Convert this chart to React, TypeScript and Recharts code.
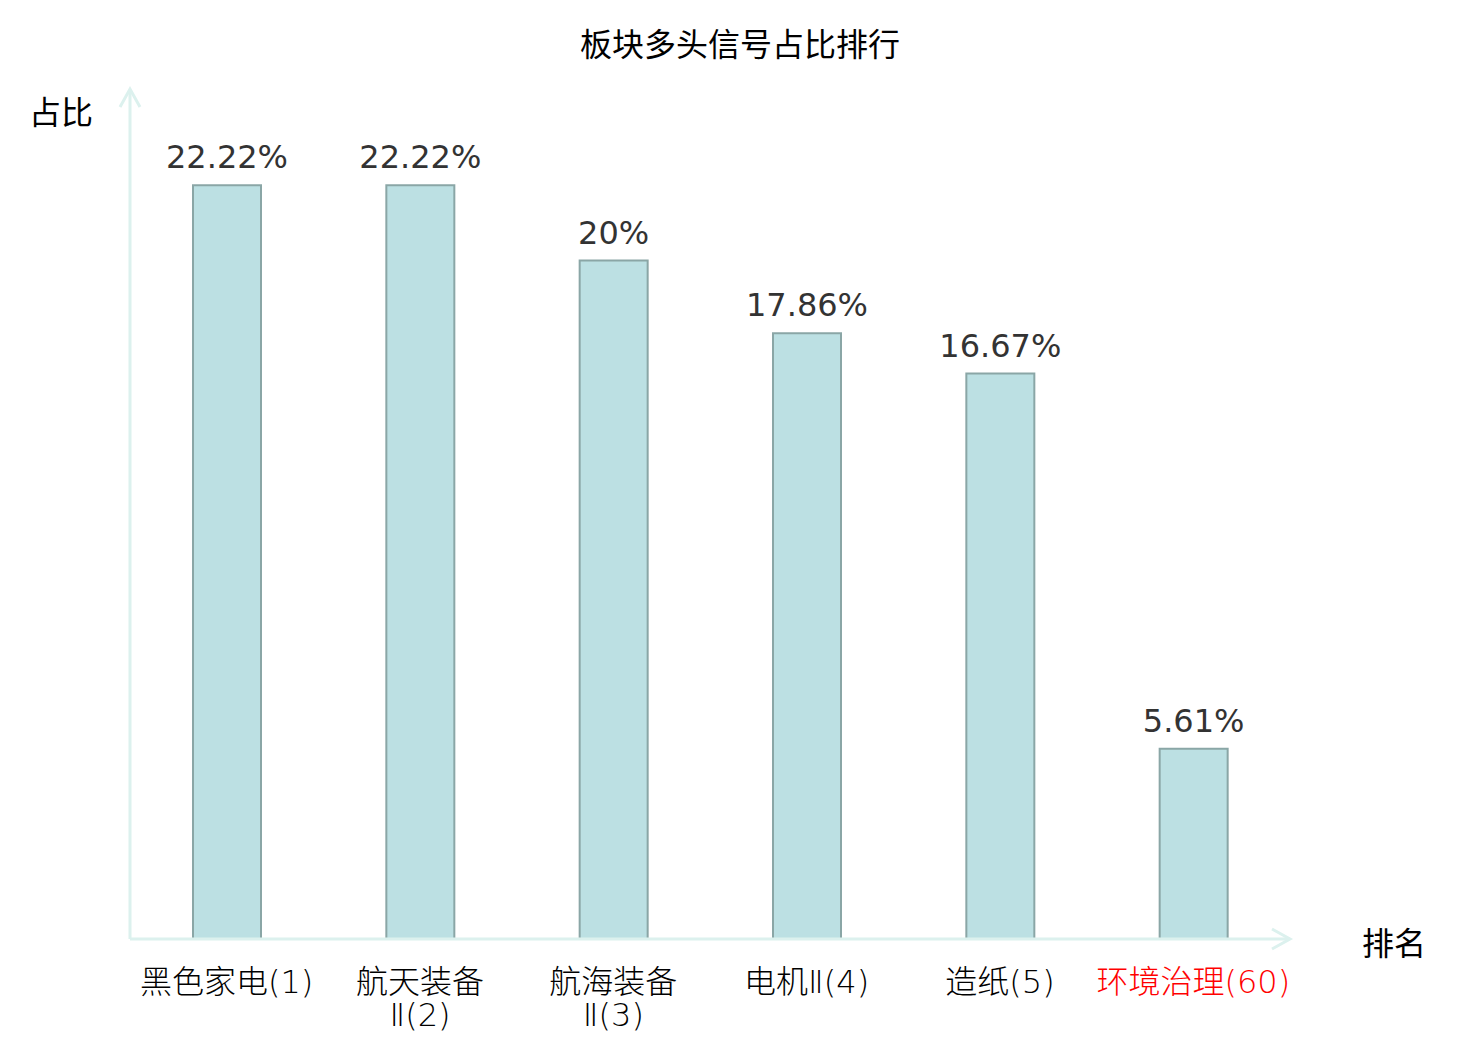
import React from 'react';
import { BarChart, Bar, XAxis, YAxis, LabelList } from 'recharts';

const sectors = ['黑色家电(1)', '航天装备\nⅡ(2)', '航海装备\nⅡ(3)', '电机Ⅱ(4)', '造纸(5)', '环境治理(60)'];
const ratios = [22.22, 22.22, 20, 17.86, 16.67, 5.61];
const highlightSector = '环境治理(60)';

const axisColor = '#dcf1ee';
const cjkFont = '"Noto Sans CJK SC", sans-serif';
const tickFont = '"DejaVu Sans", "Noto Sans CJK SC", sans-serif';

const data = sectors.map((name, i) => ({ name, ratio: ratios[i] }));

const SectorTick = (props: any) => {
    const { x, y, payload } = props;
    const lines = String(payload.value).split('\n');
    const color = payload.value === highlightSector ? '#f00' : '#000';
    return (
        <text x={x} y={y} textAnchor="middle" fill={color} fontSize={32} fontWeight={200} fontFamily={tickFont}>
            {lines.map((line, i) => (
                <tspan key={i} x={x} dy={i === 0 ? 52 : 33}>{line}</tspan>
            ))}
        </text>
    );
};

const XArrow = (props: any) => {
    const vb = props.viewBox || {};
    const tipX = vb.x + vb.width;
    const tipY = vb.y;
    return (
        <g>
            <polyline
                points={`${tipX - 18},${tipY - 10} ${tipX},${tipY} ${tipX - 18},${tipY + 10}`}
                fill="none"
                stroke={axisColor}
                strokeWidth={3}
            />
            <text x={tipX + 72} y={tipY + 2} dominantBaseline="central" fontSize={32} fontFamily={cjkFont} fill="#000">
                排名
            </text>
        </g>
    );
};

const YArrow = (props: any) => {
    const vb = props.viewBox || {};
    const tipX = vb.x + vb.width;
    const tipY = vb.y - 2;
    return (
        <g>
            <polyline
                points={`${tipX - 10},${tipY + 18} ${tipX},${tipY} ${tipX + 10},${tipY + 18}`}
                fill="none"
                stroke={axisColor}
                strokeWidth={3}
            />
            <text x={tipX - 37} y={tipY + 21} textAnchor="end" dominantBaseline="central" fontSize={32} fontFamily={cjkFont} fill="#000">
                占比
            </text>
        </g>
    );
};

const App = () => {
    return (
        <div style={{ position: 'absolute', left: 0, top: 0, width: 1480, height: 1040, background: '#fff' }}>
            <div
                style={{
                    position: 'absolute',
                    top: 20,
                    left: 0,
                    width: 1480,
                    height: 44,
                    lineHeight: '44px',
                    textAlign: 'center',
                    fontSize: 32,
                    fontFamily: cjkFont,
                    color: '#000'
                }}
            >
                板块多头信号占比排行
            </div>
            <BarChart
                data={data}
                width={1480}
                height={1040}
                margin={{ top: 91, right: 190, bottom: 0, left: 70 }}
            >
                <XAxis
                    dataKey="name"
                    height={101}
                    interval={0}
                    tickLine={false}
                    tickSize={0}
                    axisLine={{ stroke: axisColor, strokeWidth: 3 }}
                    tick={<SectorTick />}
                    label={<XArrow />}
                />
                <YAxis
                    width={60}
                    domain={[0, 25]}
                    tick={false}
                    tickLine={false}
                    axisLine={{ stroke: axisColor, strokeWidth: 3 }}
                    label={<YArrow />}
                />
                <Bar
                    dataKey="ratio"
                    barSize={68}
                    fill="#bce0e3"
                    stroke="#8aa6a6"
                    strokeWidth={2}
                    isAnimationActive={false}
                >
                    <LabelList
                        dataKey="ratio"
                        position="top"
                        offset={17}
                        formatter={(v: any) => `${v}%`}
                        fill="#333"
                        fontSize={32}
                        fontFamily='"DejaVu Sans", sans-serif'
                    />
                </Bar>
            </BarChart>
        </div>
    );
};

export default App;
